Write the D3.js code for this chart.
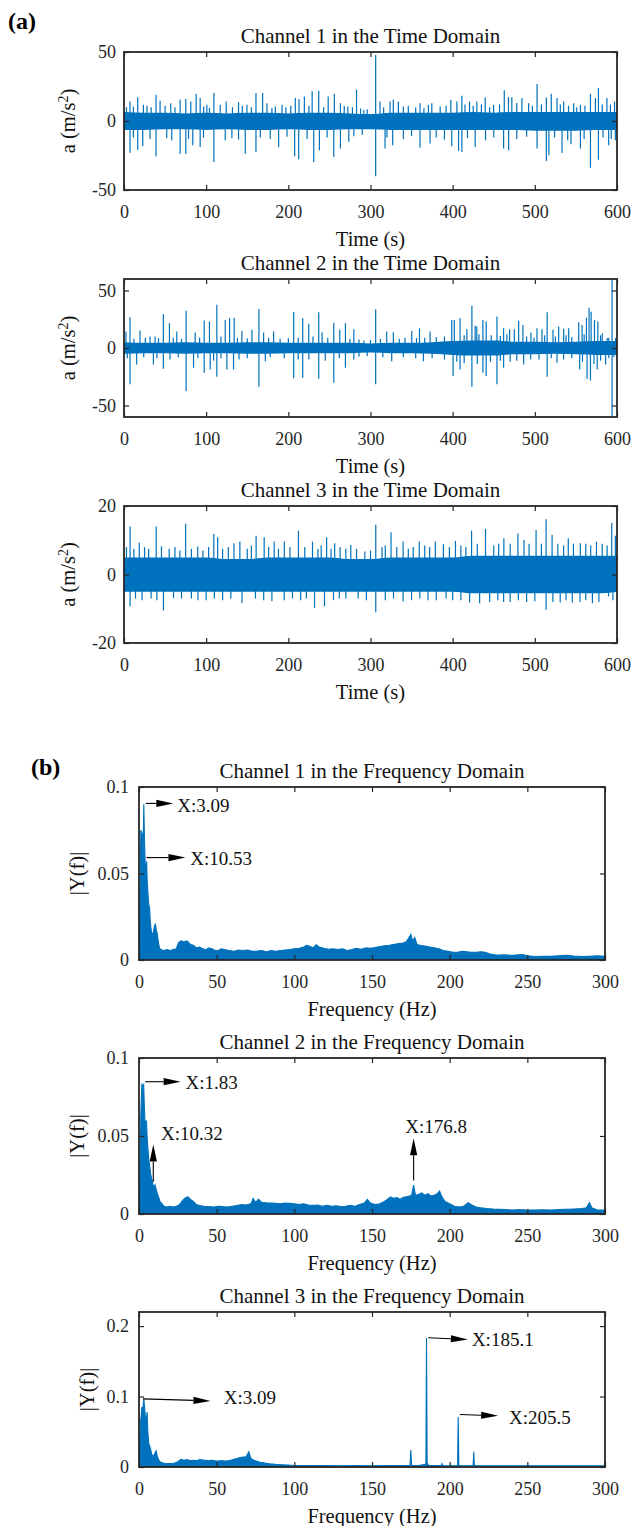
<!DOCTYPE html>
<html>
<head>
<meta charset="utf-8">
<script src="https://cdn.jsdelivr.net/npm/d3@7"></script>
<style>
  body { margin: 0; background: #fff; }
  svg { display: block; }
  text { font-family: "Liberation Serif", "Times New Roman", serif; }
</style>
</head>
<body>
<svg id="fig" width="632" height="1526"></svg>
<script>
// ---------- tick labels ----------
const timeTicks = [0, 100, 200, 300, 400, 500, 600];
const freqTicks = [0, 50, 100, 150, 200, 250, 300];
const ch1YTicks = [-50, 0, 50];
const ch2YTicks = [-50, 0, 50];
const ch3YTicks = [-20, 0, 20];
const spec1YTicks = [0, 0.05, 0.1];
const spec2YTicks = [0, 0.05, 0.1];
const spec3YTicks = [0, 0.1, 0.2];

// ---------- time-domain records: dense background band + individual bursts [t (s), a (m/s^2)] ----------
const bandTimes = [0, 25, 50, 75, 100, 125, 150, 175, 200, 225, 250, 275, 300, 325, 350, 375, 400, 425, 450, 475, 500, 525, 550, 575, 600];

const ch1BandHi = [6.5, 6, 6, 5.5, 6, 5.5, 6, 6, 5.5, 6, 6, 5.5, 5, 6, 6, 6, 6, 6.5, 6, 6.5, 6.5, 6.5, 6.5, 6.5, 6.5];
const ch1BandLo = [-6.5, -6.5, -6, -6, -6.5, -6, -6.5, -6.5, -6, -6.5, -6.5, -6, -6, -6.5, -6.5, -6.5, -6.5, -6.5, -6.5, -6.5, -7, -7, -7, -6.5, -6.5];
const ch1Bursts = [
  [7.3, 14.1], [11.4, 10.5], [16.7, 17.3], [23.6, 11.7], [39, 19], [43.9, 14.6], [56.9, 12.9], [68.3, 15.4],
  [75.2, 15.9], [81.3, 14.1], [87.8, 19.5], [92.7, 16.6], [100.8, 11.7], [109.4, 20.2], [117.1, 11.7], [124.4, 14.1],
  [139.4, 13.7], [149.6, 11.7], [160.6, 20.2], [168.7, 20.2], [174, 12.9], [184.2, 10.5], [192.3, 11.7], [208.5, 16.6],
  [213, 15.9], [219.5, 17.8], [229, 21.5], [237, 22], [248.5, 17.8], [256, 19.8], [263.4, 12.9], [272.4, 10.5],
  [283, 22.7], [291.9, 8], [306.3, 47.8], [311.6, 14.1], [323.8, 14.1], [327.8, 15.4], [333.9, 14.1], [360.3, 12.9],
  [370.5, 11.7], [374.6, 12.9], [384.8, 10.5], [397.8, 15.4], [405.1, 14.1], [411.2, 18.3], [420.5, 14.1], [429.4, 14.1],
  [439.6, 17], [449.8, 11.7], [462.8, 22.2], [467.9, 17.3], [472, 17.3], [484.3, 16.6], [492.4, 12.9], [502.7, 26.8],
  [514, 17.1], [520, 19.8], [527, 16.6], [535.1, 14.1], [547.3, 12.9], [555.5, 11.7], [567.7, 19.8], [573.7, 16.6],
  [577.4, 23.9], [587.7, 16.6], [597, 14.1],
  [3, 10], [28, 11], [33, 10], [50, 11], [62, 10], [97, 10.5], [104, 9.5], [132, 10], [144, 11], [155, 10], [180, 9.5],
  [197, 10], [203, 11], [225, 11], [243, 10], [268, 11], [278, 10], [288, 9], [296, 8.5], [316, 10], [340, 10.5],
  [346, 11], [355, 10], [365, 9.5], [392, 11], [415, 12], [425, 11], [435, 12], [445, 10], [457, 12], [478, 13],
  [497, 11], [508, 12], [531, 12], [541, 11], [551, 10], [561, 11], [582, 12], [592, 12],
  [7.3, -23], [16.7, -21], [22.8, -18.3], [39, -25.6], [58.1, -13.9], [68.3, -23.7], [75.2, -23.7], [83.7, -17.6],
  [92.7, -18.8], [109.4, -29.8], [123.2, -13.9], [147.6, -23.7], [160.6, -22.4], [188.2, -18.8], [207.7, -25.6],
  [212.6, -27.8], [230.9, -29.8], [237.8, -21.2], [255.3, -26], [263.4, -20], [273.6, -15.1], [306.3, -40],
  [317.7, -20], [327, -17.6], [360.3, -19.3], [372.5, -16.3], [398.9, -18.3], [407.2, -21.7], [411.2, -22.4],
  [427.4, -18.8], [462, -20], [468.1, -21.2], [502.7, -20], [514, -29], [517.1, -24.9], [533.1, -23.2], [544, -16.8],
  [555.5, -20], [567.7, -33.9], [577.4, -28], [589.9, -17.6], [598, -13.9],
  [11.4, -12], [31.7, -13], [52, -12.5], [78.5, -13], [96.7, -12], [131.3, -12.5], [139.4, -13.5], [165.9, -12],
  [178, -13], [198.4, -11.5], [222.8, -13], [247.2, -12], [279.7, -11], [290, -10], [320, -12], [340, -13], [350, -11],
  [380, -12], [390, -13.5], [418, -12.5], [440, -14], [450, -12], [478, -13], [490, -11.5], [524, -12], [540, -14],
  [560, -13], [583, -12], [593, -13]
];

const ch2BandHi = [5, 4.5, 4.5, 5, 4.5, 4.5, 5, 5, 4.5, 4.5, 4.5, 4.5, 4, 4.5, 4.5, 5, 6, 6.5, 6.5, 5.5, 5.5, 5, 5.5, 6, 6];
const ch2BandLo = [-5, -4.5, -4.5, -5, -4.5, -4.5, -5, -5, -4.5, -4.5, -4.5, -4.5, -4, -4.5, -4.5, -5, -6, -6.5, -6.5, -5.5, -5.5, -5, -5.5, -6, -6];
const ch2Bursts = [
  [2.4, 14.4], [7.3, 26.7], [19.5, 15.2], [31.7, 10.1], [37.8, 10.1], [47.9, 29.6], [55.3, 21.6], [64.2, 14.4],
  [75.6, 32.5], [86.6, 13.5], [97.6, 23.9], [104, 23], [113, 37.6], [123.2, 24.4], [128.5, 25.9], [134.1, 26.4],
  [143.5, 14.9], [155.7, 15.8], [164.2, 33.9], [169.9, 13.5], [182.1, 14.4], [206.5, 31.3], [217.5, 25.9], [224.8, 21],
  [237, 31], [241.1, 13.8], [255.3, 22], [262.6, 15.8], [269.5, 21.6], [279.7, 16.4], [291.9, 6.6],
  [306.3, 33.6], [319.7, 14.4], [327.8, 13.8], [350.2, 14.9], [359.6, 17], [372.5, 14.4], [398.9, 24.4], [402, 24.4],
  [409, 25.9], [417.3, 16.4], [423.4, 36.8], [427.4, 19.3], [429.4, 18.7], [436.8, 24.4], [440.8, 23], [453.9, 27.3],
  [462, 17.2], [469.3, 16.4], [475, 16.4], [480.3, 23.6], [485.5, 20.1], [495.3, 13.5], [502.6, 17.2], [508.7, 16.4],
  [515, 31], [522.1, 15.8], [529, 18.7], [535.1, 16.7], [541.2, 17.2], [553.4, 22.4], [557.5, 20.1], [562.8, 26.4],
  [566, 35], [568.5, 31.6], [572.6, 24.4], [576.7, 23], [582, 12.9], [588.1, 8.6], [594, 60], [598.3, 8.6],
  [12, 8], [26, 9], [42, 8.5], [60, 9], [70, 8], [92, 9], [118, 10], [138, 9], [150, 8.5], [176, 9], [190, 8],
  [200, 8.5], [212, 9], [230, 10], [248, 9], [275, 8], [286, 7.5], [300, 7], [312, 8], [335, 8], [342, 9], [356, 8.5],
  [366, 9], [380, 9.5], [390, 10], [414, 11], [432, 12], [447, 11], [458, 10.5], [466, 12], [490, 10], [499, 9],
  [512, 11], [525, 10], [538, 11], [545, 9.5], [560, 12], [580, 11], [590, 9],
  [7.3, -31.6], [15.4, -14.4], [35.8, -14.4], [47.9, -18], [75.6, -37.4], [84.6, -17.2], [97.6, -21.6], [104.9, -18.7],
  [113, -25], [125.2, -18.7], [133.3, -18.7], [164.2, -33.6], [172, -11.5], [206.5, -26.4], [217.5, -25.9], [237, -26.7],
  [255.3, -30.2], [269.5, -17.2], [279.7, -10.1], [306.3, -31.6], [325.8, -11.5], [364.4, -11.5], [400.5, -24.4],
  [409, -18.7], [423.4, -33.6], [436.8, -21.6], [440.8, -24.4], [453.9, -31.6], [462, -17.2], [486.4, -14.4],
  [515, -25], [527, -12.9], [554.6, -18.7], [563.6, -26.7], [567.7, -28.2], [575.9, -18.7], [586.1, -14.4],
  [594, -60], [596.2, -7.8],
  [4, -9], [24, -8], [40, -9], [56, -10], [66, -8], [90, -9], [109, -11], [118, -9], [140, -10], [150, -9], [178, -8],
  [195, -9], [212, -10], [225, -10], [245, -11], [262, -9], [286, -7.5], [296, -7], [315, -8], [340, -8], [355, -9],
  [375, -9], [390, -10], [405, -12], [414, -13], [430, -14], [446, -12], [458, -11], [470, -12], [478, -11], [495, -10],
  [505, -10], [520, -9], [535, -10], [545, -9], [558, -12], [572, -14], [580, -11], [590, -9]
];

const ch3BandHi = [5, 5, 5, 5, 5, 4.5, 4.5, 5, 5, 5, 5, 4.5, 4.5, 5, 5, 5, 5, 5.5, 5.5, 5.5, 5.5, 5.5, 5.5, 5.5, 5.5];
const ch3BandLo = [-5, -5, -5, -5, -5, -5, -5, -5, -5, -5, -5, -5, -5, -5, -5, -5, -5, -5.5, -5.5, -5.5, -5.5, -5.5, -5.5, -5.5, -5];
const ch3Bursts = [
  [7.4, 14], [18.6, 9.3], [39.2, 14], [45.6, 8.2], [75, 14.8], [89.7, 8.2], [109.3, 11.8], [114, 10.9],
  [133.8, 9.1], [141, 9.6], [160.8, 11.3], [170.6, 10.9], [182.8, 9.6], [195.1, 9.6], [212.3, 12.8], [229.4, 9.6],
  [246.6, 10.9], [256.4, 9.1], [276, 8.6], [293.1, 6.7], [306.4, 14.5], [325, 12.3], [339.7, 9.6], [359.3, 9.6],
  [378.9, 9.6], [388.7, 8.8], [403.4, 9.8], [423, 12.8], [440, 13.3], [462.3, 10.6], [479.4, 12], [486.8, 10.1],
  [501.5, 13], [513.7, 16.1], [521, 11.6], [540.7, 10.6], [555.4, 9.1], [575, 9.6], [593.6, 15.1], [598, 11.3],
  [3, 8], [12, 7.5], [25, 8], [30, 7.5], [55, 7.5], [62, 8], [68, 7], [82, 7.5], [96, 7], [103, 8], [120, 7.5],
  [127, 8], [150, 7.5], [155, 8.5], [176, 8], [188, 7.5], [202, 8], [220, 8], [236, 7.5], [240, 8.5], [252, 7.5],
  [263, 8], [270, 7.5], [283, 7.5], [300, 7], [314, 8], [318, 8.5], [332, 8], [346, 7.5], [352, 8], [366, 8.5],
  [372, 8], [396, 8], [410, 8.5], [416, 8], [430, 9], [450, 8.5], [456, 9], [470, 9], [493, 9], [508, 9], [528, 9],
  [535, 8.5], [547, 9], [562, 9], [568, 8.5], [582, 9], [588, 8.5],
  [7.4, -9.3], [48, -10.5], [60.3, -6.9], [100, -7.5], [143.6, -8.3], [180, -7.8], [231.9, -9.8], [244, -9.3],
  [270, -7], [306.4, -11], [339.7, -7.9], [380, -7.5], [420.6, -8.2], [432.8, -8.4], [470, -8], [500, -7.8],
  [513.7, -10.3], [530.9, -8.2], [545.6, -8.2], [570.1, -8.4], [589.7, -6.4],
  [14, -7], [22, -7.5], [33, -7], [40, -7.5], [70, -7], [82, -7], [90, -7.5], [110, -7], [120, -7.5], [130, -7],
  [160, -7], [170, -7.5], [195, -7.5], [205, -7], [215, -7.5], [222, -7], [255, -7.5], [262, -7], [285, -7],
  [295, -7.5], [318, -7.5], [328, -7], [350, -7.5], [360, -7], [370, -7.5], [392, -7], [400, -7.5], [410, -7.5],
  [445, -8], [455, -7.5], [462, -8], [480, -7.5], [490, -8], [522, -8], [538, -7.5], [555, -8], [562, -7.5],
  [578, -8], [595, -7.5]
];

// ---------- single-sided amplitude spectra [frequency Hz, |Y(f)|] ----------
const spec1 = [
  [0, 0], [0.4, 0.02], [0.8, 0.05], [1.2, 0.075], [1.7, 0.074], [2.2, 0.072], [2.6, 0.06], [3.09, 0.09], [3.5, 0.07],
  [4.0, 0.055], [4.5, 0.05], [4.9, 0.057], [5.3, 0.045], [5.8, 0.038], [6.3, 0.032], [6.8, 0.03], [7.3, 0.022],
  [7.9, 0.017], [8.5, 0.014], [9.2, 0.016], [9.8, 0.019], [10.53, 0.021], [11.2, 0.017], [11.8, 0.015], [12.5, 0.01],
  [13.2, 0.007], [14, 0.006], [16, 0.0055], [18, 0.006], [20, 0.0055], [22, 0.006], [24, 0.0065], [25.5, 0.01],
  [27, 0.011], [29, 0.0105], [31, 0.011], [33, 0.009], [35, 0.0085], [37, 0.007], [39, 0.0075], [41, 0.0065],
  [43, 0.006], [45, 0.007], [47, 0.0065], [49, 0.0055], [51, 0.0055], [53, 0.0065], [55, 0.006], [58, 0.0055],
  [61, 0.005], [64, 0.0058], [67, 0.0055], [70, 0.0058], [73, 0.005], [76, 0.0052], [79, 0.0055], [82, 0.0048],
  [85, 0.0055], [88, 0.005], [91, 0.0055], [94, 0.0058], [97, 0.006], [100, 0.0065], [103, 0.0068], [106, 0.0075],
  [108, 0.0085], [110, 0.008], [112, 0.007], [114, 0.0088], [116, 0.0075], [119, 0.0068], [122, 0.0062], [125, 0.0065],
  [128, 0.006], [131, 0.0065], [134, 0.0055], [137, 0.006], [140, 0.0068], [143, 0.0062], [146, 0.007], [149, 0.0068],
  [152, 0.0072], [155, 0.0078], [158, 0.0082], [161, 0.0085], [164, 0.009], [167, 0.0095], [170, 0.0098], [172, 0.0105],
  [173.5, 0.0125], [175, 0.0148], [176.2, 0.011], [177.5, 0.013], [179, 0.009], [181, 0.0085], [184, 0.008], [187, 0.0075],
  [190, 0.007], [193, 0.0065], [196, 0.0055], [199, 0.005], [202, 0.0045], [205, 0.0045], [208, 0.005], [211, 0.0048],
  [214, 0.0045], [217, 0.0045], [220, 0.0048], [223, 0.0045], [226, 0.0035], [229, 0.003], [232, 0.0028], [235, 0.003],
  [238, 0.0028], [241, 0.0027], [244, 0.003], [247, 0.0032], [250, 0.0025], [255, 0.002], [260, 0.0022], [265, 0.0021],
  [270, 0.0025], [275, 0.0027], [280, 0.0023], [285, 0.002], [290, 0.0022], [295, 0.0024], [300, 0.0022]
];

const spec2 = [
  [0, 0], [0.4, 0.015], [0.8, 0.04], [1.2, 0.064], [1.83, 0.083], [2.4, 0.082], [3, 0.083], [3.4, 0.07], [3.8, 0.06],
  [4.3, 0.058], [4.8, 0.06], [5.3, 0.048], [5.8, 0.041], [6.4, 0.034], [7, 0.03], [7.6, 0.025], [8.3, 0.022], [9, 0.019],
  [9.6, 0.017], [10.32, 0.0186], [11, 0.016], [11.8, 0.013], [12.6, 0.011], [13.5, 0.008], [14.5, 0.007], [16, 0.005],
  [18, 0.0045], [20, 0.005], [22, 0.0045], [24, 0.005], [26, 0.006], [28, 0.0085], [30, 0.0105], [31.5, 0.011],
  [33, 0.0095], [35, 0.008], [37, 0.006], [39, 0.0055], [42, 0.005], [45, 0.0048], [48, 0.0045], [51, 0.005],
  [54, 0.0047], [57, 0.0045], [60, 0.005], [63, 0.0055], [66, 0.006], [69, 0.0058], [72, 0.0065], [73.5, 0.01],
  [75, 0.0075], [77, 0.0095], [79, 0.0075], [82, 0.0072], [85, 0.007], [88, 0.0068], [91, 0.0065], [94, 0.007],
  [97, 0.0068], [100, 0.0065], [103, 0.006], [106, 0.0065], [109, 0.0058], [112, 0.0055], [115, 0.0058], [118, 0.005],
  [121, 0.0055], [124, 0.005], [127, 0.0052], [130, 0.0048], [133, 0.005], [136, 0.0055], [139, 0.005], [142, 0.006],
  [145, 0.007], [147, 0.0094], [149, 0.007], [152, 0.006], [155, 0.0065], [158, 0.008], [160, 0.0095], [162, 0.011],
  [164, 0.01], [166, 0.0105], [168, 0.0095], [170, 0.0105], [172, 0.011], [174, 0.0115], [175.5, 0.012], [176.8, 0.0186],
  [178, 0.012], [180, 0.0125], [182, 0.0135], [184, 0.012], [186, 0.013], [188, 0.0115], [190, 0.012], [192, 0.013],
  [193.5, 0.0147], [195, 0.011], [197, 0.008], [200, 0.0065], [203, 0.005], [206, 0.0045], [209, 0.005], [212, 0.0073],
  [214, 0.006], [217, 0.0045], [220, 0.004], [224, 0.0035], [228, 0.0032], [232, 0.003], [236, 0.0028], [240, 0.0026],
  [245, 0.0028], [250, 0.0026], [255, 0.0025], [260, 0.0027], [265, 0.0026], [270, 0.0028], [275, 0.003], [280, 0.0032],
  [285, 0.0035], [288, 0.004], [290, 0.0073], [291.5, 0.004], [295, 0.0025], [300, 0.0026]
];

const spec3 = [
  [0, 0.005], [0.4, 0.03], [0.8, 0.062], [1.3, 0.07], [1.8, 0.085], [2.4, 0.08], [3.09, 0.097], [3.6, 0.085],
  [4.1, 0.071], [4.6, 0.065], [5.2, 0.078], [5.7, 0.05], [6.3, 0.033], [6.9, 0.03], [7.5, 0.025], [8.2, 0.018],
  [8.9, 0.015], [9.6, 0.017], [10.3, 0.02], [11, 0.023], [11.7, 0.016], [12.5, 0.011], [13.5, 0.0075], [15, 0.006],
  [17, 0.005], [19, 0.0048], [21, 0.005], [23, 0.0055], [25, 0.0075], [27, 0.011], [29, 0.0095], [31, 0.0105],
  [33, 0.009], [35, 0.0095], [37, 0.009], [39, 0.0105], [41, 0.01], [43, 0.0095], [45, 0.009], [47, 0.0095],
  [49, 0.0088], [51, 0.0085], [53, 0.009], [55, 0.0085], [57, 0.0088], [59, 0.0095], [61, 0.011], [63, 0.012],
  [65, 0.0135], [67, 0.014], [69, 0.0145], [70.7, 0.0217], [72, 0.012], [74, 0.0095], [76, 0.008], [78, 0.0068],
  [80, 0.006], [84, 0.0045], [88, 0.0038], [92, 0.0033], [96, 0.0028], [100, 0.0022], [110, 0.002], [120, 0.0019],
  [130, 0.0018], [140, 0.0019], [150, 0.0018], [160, 0.0019], [170, 0.0019], [174.5, 0.002], [175, 0.024], [175.5, 0.002],
  [180, 0.0019], [184.3, 0.004], [184.7, 0.005], [185.1, 0.183], [185.5, 0.006], [186, 0.004], [186.5, 0.002],
  [190, 0.0019], [194.5, 0.002], [195, 0.005], [195.5, 0.002], [200, 0.0018], [205.1, 0.002], [205.5, 0.071],
  [205.9, 0.002], [210, 0.0018], [215.1, 0.002], [215.5, 0.0217], [215.9, 0.002], [220, 0.0018], [240, 0.0018],
  [260, 0.0018], [280, 0.0018], [300, 0.0018]
];

// ---------- marked peaks (data-cursor labels) ----------
const spec1Peaks = ["X:3.09", "X:10.53"];
const spec2Peaks = ["X:1.83", "X:10.32", "X:176.8"];
const spec3Peaks = ["X:3.09", "X:185.1", "X:205.5"];

// ---------- figure layout ----------
const BLUE = "#0072BD";
const AXIS = "#262626";
const svg = d3.select("#fig");

const panels = [
  { title: "Channel 1 in the Time Domain", xl: "Time (s)", yl: "time",
    box: [124, 617, 52, 190], xd: [0, 600], yd: [-50, 50], xt: timeTicks, yt: ch1YTicks, ylx: 68, ytGap: 8,
    kind: "time", hi: ch1BandHi, lo: ch1BandLo, bursts: ch1Bursts },
  { title: "Channel 2 in the Time Domain", xl: "Time (s)", yl: "time",
    box: [124, 617, 279, 417], xd: [0, 600], yd: [-60, 60], xt: timeTicks, yt: ch2YTicks, ylx: 68, ytGap: 8,
    kind: "time", hi: ch2BandHi, lo: ch2BandLo, bursts: ch2Bursts },
  { title: "Channel 3 in the Time Domain", xl: "Time (s)", yl: "time",
    box: [124, 617, 506, 643], xd: [0, 600], yd: [-20, 20], xt: timeTicks, yt: ch3YTicks, ylx: 68, ytGap: 8,
    kind: "time", hi: ch3BandHi, lo: ch3BandLo, bursts: ch3Bursts },
  { title: "Channel 1 in the Frequency Domain", xl: "Frequency (Hz)", yl: "freq",
    box: [139, 605, 787, 960], xd: [0, 300], yd: [0, 0.1], xt: freqTicks, yt: spec1YTicks, ylx: 77, ytGap: 10,
    kind: "freq", spec: spec1,
    notes: [
      { text: spec1Peaks[0], from: [4.3, 0.0905], to: [22.1, 0.0905], at: [24.7, 0.0895] },
      { text: spec1Peaks[1], from: [4.8, 0.0592], to: [29.9, 0.0592], at: [33, 0.0588] }
    ] },
  { title: "Channel 2 in the Frequency Domain", xl: "Frequency (Hz)", yl: "freq",
    box: [139, 605, 1058, 1214], xd: [0, 300], yd: [0, 0.1], xt: freqTicks, yt: spec2YTicks, ylx: 77, ytGap: 10,
    kind: "freq", spec: spec2,
    notes: [
      { text: spec2Peaks[0], from: [4, 0.0848], to: [26.8, 0.0848], at: [30, 0.0845] },
      { text: spec2Peaks[1], from: [9.2, 0.0207], to: [9.2, 0.0445], at: [14.2, 0.0513] },
      { text: spec2Peaks[2], from: [176.8, 0.0214], to: [176.8, 0.0485], at: [171.4, 0.056] }
    ] },
  { title: "Channel 3 in the Frequency Domain", xl: "Frequency (Hz)", yl: "freq",
    box: [139, 605, 1312, 1467], xd: [0, 300], yd: [0, 0.22], xt: freqTicks, yt: spec3YTicks, ylx: 87, ytGap: 10,
    kind: "freq", spec: spec3,
    notes: [
      { text: spec3Peaks[0], from: [2.6, 0.0967], to: [46, 0.0938], at: [54.6, 0.0985] },
      { text: spec3Peaks[1], from: [186.2, 0.1834], to: [211.7, 0.181], at: [214.3, 0.1806] },
      { text: spec3Peaks[2], from: [206.5, 0.0745], to: [231.2, 0.0726], at: [238.2, 0.0698] }
    ] }
];

function drawArrow(g, x1, y1, x2, y2) {
  const len = Math.hypot(x2 - x1, y2 - y1);
  const ux = (x2 - x1) / len, uy = (y2 - y1) / len;
  const headLen = 17, half = 3.6;
  const bx = x2 - ux * headLen, by = y2 - uy * headLen;
  g.append("line").attr("x1", x1).attr("y1", y1).attr("x2", bx).attr("y2", by)
    .attr("stroke", "#000").attr("stroke-width", 1.1);
  g.append("polygon")
    .attr("points", [[x2, y2], [bx - uy * half, by + ux * half], [bx + uy * half, by - ux * half]].map(p => p.join(",")).join(" "))
    .attr("fill", "#000");
}

panels.forEach((p, i) => {
  const [x0, x1, y0, y1] = p.box;
  const x = d3.scaleLinear().domain(p.xd).range([x0, x1]);
  const y = d3.scaleLinear().domain(p.yd).range([y1, y0]);
  const g = svg.append("g");

  const clipId = "clip" + i;
  svg.append("clipPath").attr("id", clipId)
    .append("rect").attr("x", x0).attr("y", y0).attr("width", x1 - x0).attr("height", y1 - y0);
  const plot = g.append("g").attr("clip-path", `url(#${clipId})`);

  if (p.kind === "time") {
    const band = bandTimes.map((t, k) => ({ t, hi: p.hi[k], lo: p.lo[k] }));
    plot.append("path").datum(band)
      .attr("d", d3.area().curve(d3.curveMonotoneX).x(d => x(d.t)).y0(d => y(d.lo)).y1(d => y(d.hi)))
      .attr("fill", BLUE);
    plot.selectAll("line.burst").data(p.bursts).join("line")
      .attr("class", "burst")
      .attr("x1", d => x(d[0])).attr("x2", d => x(d[0]))
      .attr("y1", y(0)).attr("y2", d => y(d[1]))
      .attr("stroke", BLUE).attr("stroke-width", 1.2);
  } else {
    plot.append("path").datum(p.spec)
      .attr("d", d3.area().x(d => x(d[0])).y0(y(0)).y1(d => y(d[1])))
      .attr("fill", BLUE);
    plot.append("path").datum(p.spec)
      .attr("d", d3.line().x(d => x(d[0])).y(d => y(d[1])))
      .attr("fill", "none").attr("stroke", BLUE).attr("stroke-width", 1.1);
  }

  // axes with inward ticks on all four sides
  const fmt = d => String(d);
  const ax = g.append("g").attr("color", AXIS);
  ax.append("g").attr("transform", `translate(0,${y1})`)
    .call(d3.axisBottom(x).tickValues(p.xt).tickFormat(fmt).tickSizeInner(-5).tickSizeOuter(0).tickPadding(15));
  ax.append("g").attr("transform", `translate(0,${y0})`)
    .call(d3.axisTop(x).tickValues(p.xt).tickFormat("").tickSizeInner(-5).tickSizeOuter(0));
  ax.append("g").attr("transform", `translate(${x0},0)`)
    .call(d3.axisLeft(y).tickValues(p.yt).tickFormat(fmt).tickSizeInner(-5).tickSizeOuter(0).tickPadding(p.ytGap));
  ax.append("g").attr("transform", `translate(${x1},0)`)
    .call(d3.axisRight(y).tickValues(p.yt).tickFormat("").tickSizeInner(-5).tickSizeOuter(0));
  ax.selectAll(".domain").remove();
  ax.selectAll(".tick line").attr("stroke", AXIS).attr("stroke-width", 1.2);
  ax.selectAll(".tick text").attr("font-size", 18).attr("fill", AXIS)
    .style("font-family", '"Liberation Serif", "Times New Roman", serif');

  g.append("rect").attr("x", x0).attr("y", y0).attr("width", x1 - x0).attr("height", y1 - y0)
    .attr("fill", "none").attr("stroke", AXIS).attr("stroke-width", 1.8);

  // title and axis labels
  g.append("text").attr("x", (x0 + x1) / 2).attr("y", y0 - 9)
    .attr("text-anchor", "middle").attr("font-size", 21).attr("fill", "#111").text(p.title);
  g.append("text").attr("x", (x0 + x1) / 2).attr("y", y1 + 56)
    .attr("text-anchor", "middle").attr("font-size", 20.5).attr("fill", "#111").text(p.xl);

  const yl = g.append("text")
    .attr("transform", `translate(${p.ylx},${(y0 + y1) / 2}) rotate(-90)`)
    .attr("text-anchor", "middle").attr("dy", "0.32em").attr("font-size", 20.5).attr("fill", "#111");
  if (p.yl === "time") {
    yl.append("tspan").text("a (m/s");
    yl.append("tspan").attr("font-size", 14).attr("baseline-shift", "super").text("2");
    yl.append("tspan").text(")");
  } else {
    yl.text("|Y(f)|");
  }

  // data-cursor annotations
  (p.notes || []).forEach(n => {
    drawArrow(g, x(n.from[0]), y(n.from[1]), x(n.to[0]), y(n.to[1]));
    g.append("text").attr("x", x(n.at[0])).attr("y", y(n.at[1])).attr("dy", "0.34em")
      .attr("font-size", 19).attr("fill", "#111").text(n.text);
  });
});

// sub-figure tags
svg.append("text").attr("x", 8).attr("y", 29).attr("font-size", 24).attr("font-weight", "bold").text("(a)");
svg.append("text").attr("x", 31).attr("y", 775).attr("font-size", 24).attr("font-weight", "bold").text("(b)");
</script>
</body>
</html>
